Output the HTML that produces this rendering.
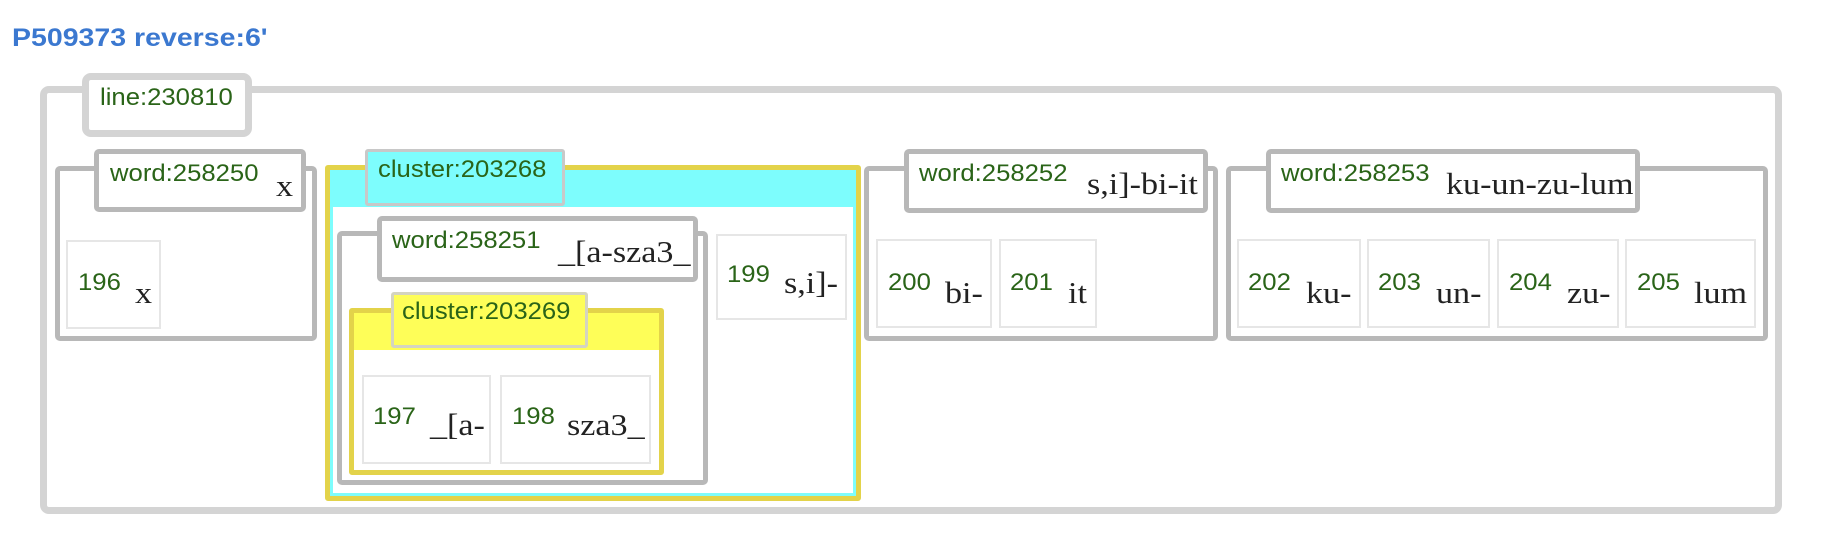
<!DOCTYPE html>
<html><head><meta charset="utf-8"><style>
body{margin:0;width:1830px;height:538px;background:#fff;position:relative;overflow:hidden;font-family:"Liberation Sans",sans-serif}
div{position:absolute;box-sizing:border-box}
.t{font-weight:bold;color:#3b78d0;font-size:25px;left:12px;top:24px;transform:scaleX(1.14);transform-origin:left;white-space:nowrap}
.box{border:5px solid #b8b8b8;border-radius:5px;background:#fff}
.lab{border:5px solid #b8b8b8;border-radius:5px;background:#fff}
.cell{border:2px solid #e6e6e6;background:#fff}
.s{color:#2a6418;font-size:24px;white-space:nowrap;transform:scaleX(1.07);transform-origin:left;margin-top:-4px}
.r{font-family:"Liberation Serif",serif;color:#222;font-size:31px;white-space:nowrap;transform:scaleX(1.1);transform-origin:left;margin-top:-3px}
</style></head><body>
<div class="t">P509373 reverse:6'</div>

<div style="left:40px;top:86px;width:1742px;height:428px;border:7px solid #d4d4d4;border-radius:9px"></div>
<div style="left:82px;top:73px;width:170px;height:64px;border:7px solid #d4d4d4;border-radius:9px;background:#fff"></div>
<div class="s" style="left:100px;top:88px">line:230810</div>

<!-- word 258250 -->
<div class="box" style="left:55px;top:166px;width:262px;height:175px"></div>
<div class="lab" style="left:94px;top:149px;width:212px;height:63px"></div>
<div class="s" style="left:110px;top:164px">word:258250</div>
<div class="r" style="left:276px;top:171px">x</div>
<div class="cell" style="left:66px;top:240px;width:95px;height:89px"></div>
<div class="s" style="left:78px;top:273px">196</div>
<div class="r" style="left:135px;top:278px">x</div>

<!-- cluster 203268 -->
<div style="left:325px;top:165px;width:536px;height:336px;border:5px solid #e3d34a;border-radius:3px;background:#fff"></div>
<div style="left:330px;top:170px;width:526px;height:326px;border:3px solid #7dfdfd;border-top:none;background:#fff"></div>
<div style="left:330px;top:170px;width:526px;height:37px;background:#7dfdfd"></div>
<div style="left:365px;top:149px;width:200px;height:57px;border:3px solid #c8c8c8;border-radius:3px;background:#7dfdfd"></div>
<div class="s" style="left:378px;top:160px">cluster:203268</div>

<!-- word 258251 -->
<div class="box" style="left:337px;top:231px;width:371px;height:254px"></div>
<div class="lab" style="left:377px;top:216px;width:321px;height:66px"></div>
<div class="s" style="left:392px;top:231px">word:258251</div>
<div class="r" style="left:558px;top:237px">_[a-sza3_</div>

<!-- cluster 203269 -->
<div style="left:349px;top:308px;width:315px;height:167px;border:5px solid #e3d34a;border-radius:3px;background:#fff"></div>
<div style="left:354px;top:313px;width:305px;height:37px;background:#fefe58"></div>
<div style="left:391px;top:292px;width:197px;height:56px;border:3px solid #d4d4c0;border-radius:3px;background:#fefe58"></div>
<div class="s" style="left:402px;top:302px">cluster:203269</div>
<div class="cell" style="left:362px;top:375px;width:129px;height:89px"></div>
<div class="s" style="left:373px;top:407px">197</div>
<div class="r" style="left:430px;top:410px">_[a-</div>
<div class="cell" style="left:500px;top:375px;width:151px;height:89px"></div>
<div class="s" style="left:512px;top:407px">198</div>
<div class="r" style="left:567px;top:410px">sza3_</div>

<div class="cell" style="left:716px;top:234px;width:131px;height:86px"></div>
<div class="s" style="left:727px;top:265px">199</div>
<div class="r" style="left:784px;top:268px">s,i]-</div>

<!-- word 258252 -->
<div class="box" style="left:864px;top:166px;width:354px;height:175px"></div>
<div class="lab" style="left:904px;top:149px;width:304px;height:64px"></div>
<div class="s" style="left:919px;top:164px">word:258252</div>
<div class="r" style="left:1087px;top:169px">s,i]-bi-it</div>
<div class="cell" style="left:876px;top:239px;width:116px;height:89px"></div>
<div class="s" style="left:888px;top:273px">200</div>
<div class="r" style="left:945px;top:278px">bi-</div>
<div class="cell" style="left:999px;top:239px;width:98px;height:89px"></div>
<div class="s" style="left:1010px;top:273px">201</div>
<div class="r" style="left:1068px;top:278px">it</div>

<!-- word 258253 -->
<div class="box" style="left:1226px;top:166px;width:542px;height:175px"></div>
<div class="lab" style="left:1266px;top:149px;width:374px;height:64px"></div>
<div class="s" style="left:1281px;top:164px">word:258253</div>
<div class="r" style="left:1446px;top:169px">ku-un-zu-lum</div>
<div class="cell" style="left:1237px;top:239px;width:124px;height:89px"></div>
<div class="s" style="left:1248px;top:273px">202</div>
<div class="r" style="left:1306px;top:278px">ku-</div>
<div class="cell" style="left:1367px;top:239px;width:123px;height:89px"></div>
<div class="s" style="left:1378px;top:273px">203</div>
<div class="r" style="left:1436px;top:278px">un-</div>
<div class="cell" style="left:1497px;top:239px;width:122px;height:89px"></div>
<div class="s" style="left:1509px;top:273px">204</div>
<div class="r" style="left:1567px;top:278px">zu-</div>
<div class="cell" style="left:1625px;top:239px;width:131px;height:89px"></div>
<div class="s" style="left:1637px;top:273px">205</div>
<div class="r" style="left:1694px;top:278px">lum</div>
</body></html>
